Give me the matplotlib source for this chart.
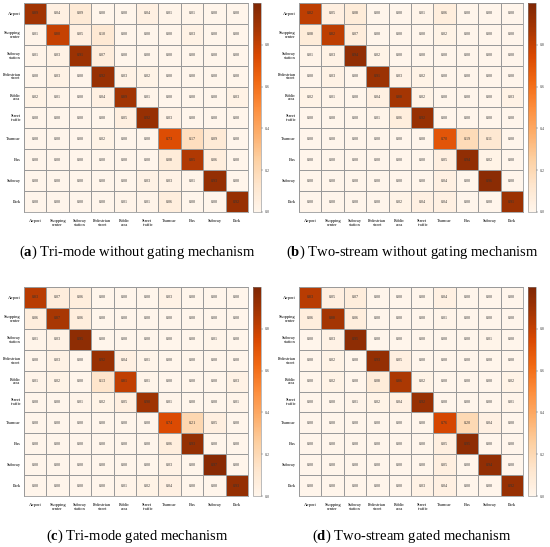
import numpy as np
import matplotlib.pyplot as plt

plt.rcParams['font.family'] = 'Liberation Serif'
plt.rcParams['mathtext.fontset'] = 'custom'
plt.rcParams['mathtext.rm'] = 'Liberation Serif'
plt.rcParams['mathtext.bf'] = 'Liberation Serif:bold'

# scene classes (row = true, column = predicted)
classes = ['Airport', 'Shopping\ncenter', 'Subway\nstation', 'Pedestrian\nstreet',
           'Public\narea', 'Street\ntraffic', 'Tramcar', 'Bus', 'Subway', 'Park']

tri_no_gate = [
    [0.89, 0.04, 0.09, 0.00, 0.00, 0.04, 0.01, 0.01, 0.00, 0.00],
    [0.01, 0.80, 0.05, 0.10, 0.00, 0.00, 0.00, 0.03, 0.00, 0.00],
    [0.01, 0.03, 0.91, 0.07, 0.00, 0.00, 0.00, 0.00, 0.00, 0.00],
    [0.00, 0.03, 0.00, 0.92, 0.03, 0.02, 0.00, 0.00, 0.00, 0.00],
    [0.02, 0.01, 0.00, 0.04, 0.89, 0.01, 0.00, 0.00, 0.00, 0.03],
    [0.00, 0.00, 0.00, 0.00, 0.05, 0.92, 0.03, 0.00, 0.00, 0.00],
    [0.00, 0.00, 0.00, 0.02, 0.00, 0.00, 0.73, 0.17, 0.09, 0.00],
    [0.00, 0.00, 0.00, 0.00, 0.00, 0.00, 0.08, 0.85, 0.06, 0.00],
    [0.00, 0.00, 0.00, 0.00, 0.00, 0.03, 0.03, 0.01, 0.93, 0.00],
    [0.00, 0.00, 0.00, 0.00, 0.01, 0.01, 0.06, 0.00, 0.00, 0.92],
]

two_no_gate = [
    [0.82, 0.05, 0.08, 0.00, 0.00, 0.01, 0.06, 0.00, 0.00, 0.00],
    [0.08, 0.82, 0.07, 0.00, 0.00, 0.00, 0.02, 0.00, 0.00, 0.00],
    [0.01, 0.03, 0.94, 0.02, 0.00, 0.00, 0.00, 0.00, 0.00, 0.00],
    [0.00, 0.03, 0.00, 0.91, 0.03, 0.02, 0.00, 0.00, 0.00, 0.00],
    [0.02, 0.01, 0.00, 0.04, 0.88, 0.02, 0.00, 0.00, 0.00, 0.03],
    [0.00, 0.00, 0.00, 0.01, 0.06, 0.92, 0.00, 0.00, 0.00, 0.00],
    [0.00, 0.00, 0.00, 0.00, 0.00, 0.00, 0.70, 0.19, 0.11, 0.00],
    [0.00, 0.00, 0.00, 0.00, 0.00, 0.00, 0.05, 0.94, 0.02, 0.00],
    [0.00, 0.00, 0.00, 0.00, 0.00, 0.00, 0.04, 0.00, 0.96, 0.00],
    [0.00, 0.00, 0.00, 0.00, 0.02, 0.04, 0.04, 0.00, 0.00, 0.91],
]

tri_gate = [
    [0.83, 0.07, 0.06, 0.00, 0.00, 0.00, 0.03, 0.00, 0.00, 0.00],
    [0.06, 0.87, 0.06, 0.00, 0.00, 0.00, 0.00, 0.00, 0.00, 0.00],
    [0.01, 0.03, 0.95, 0.00, 0.00, 0.00, 0.00, 0.00, 0.01, 0.00],
    [0.00, 0.03, 0.00, 0.92, 0.04, 0.01, 0.00, 0.00, 0.00, 0.00],
    [0.01, 0.02, 0.00, 0.13, 0.81, 0.01, 0.00, 0.00, 0.00, 0.03],
    [0.00, 0.00, 0.01, 0.02, 0.05, 0.90, 0.01, 0.00, 0.00, 0.01],
    [0.00, 0.00, 0.00, 0.00, 0.00, 0.00, 0.74, 0.21, 0.05, 0.00],
    [0.00, 0.00, 0.00, 0.00, 0.00, 0.00, 0.06, 0.93, 0.00, 0.00],
    [0.00, 0.00, 0.00, 0.00, 0.00, 0.00, 0.03, 0.00, 0.97, 0.00],
    [0.00, 0.00, 0.00, 0.00, 0.01, 0.02, 0.04, 0.00, 0.00, 0.93],
]

two_gate = [
    [0.83, 0.05, 0.07, 0.00, 0.00, 0.00, 0.04, 0.00, 0.00, 0.00],
    [0.06, 0.88, 0.06, 0.00, 0.00, 0.00, 0.01, 0.00, 0.00, 0.00],
    [0.00, 0.03, 0.95, 0.00, 0.00, 0.00, 0.00, 0.00, 0.01, 0.00],
    [0.00, 0.02, 0.00, 0.93, 0.05, 0.00, 0.00, 0.00, 0.00, 0.00],
    [0.00, 0.02, 0.00, 0.08, 0.86, 0.02, 0.00, 0.00, 0.00, 0.02],
    [0.00, 0.00, 0.01, 0.02, 0.04, 0.92, 0.00, 0.00, 0.00, 0.01],
    [0.00, 0.00, 0.00, 0.00, 0.00, 0.00, 0.76, 0.20, 0.04, 0.00],
    [0.00, 0.00, 0.00, 0.00, 0.00, 0.00, 0.05, 0.95, 0.00, 0.00],
    [0.00, 0.00, 0.00, 0.00, 0.00, 0.00, 0.05, 0.00, 0.94, 0.00],
    [0.00, 0.00, 0.00, 0.00, 0.00, 0.03, 0.04, 0.00, 0.00, 0.92],
]

captions = [
    ('a', 'Tri-mode without gating mechanism'),
    ('b', 'Two-stream without gating mechanism'),
    ('c', 'Tri-mode gated mechanism'),
    ('d', 'Two-stream gated mechanism'),
]
cbar_ticks = [0.0, 0.2, 0.4, 0.6, 0.8]

W, H = 550, 547
fig = plt.figure(figsize=(W / 100, H / 100), dpi=100)


def px_axes(x0, y0, x1, y1):
    """Axes placed by pixel box (origin top-left)."""
    return fig.add_axes([x0 / W, 1 - y1 / H, (x1 - x0) / W, (y1 - y0) / H])


def draw_panel(cm, letter, title, x0, y0):
    cm = np.asarray(cm)
    n = len(classes)
    ax = px_axes(x0, y0, x0 + 224, y0 + 209)
    cax = px_axes(x0 + 229, y0, x0 + 237, y0 + 209)

    mesh = ax.pcolormesh(cm, cmap='Oranges', vmin=0, vmax=1,
                         edgecolors='#9a9a9a', linewidth=0.6)
    ax.set_xlim(0, n)
    ax.set_ylim(n, 0)
    for i in range(n):
        for j in range(n):
            ax.text(j + 0.5, i + 0.5, f'{cm[i, j]:.2f}', ha='center', va='center',
                    fontsize=3, color='#333333')

    ax.set_xticks(np.arange(n) + 0.5, classes, fontsize=3.2, linespacing=0.95)
    ax.set_yticks(np.arange(n) + 0.5, classes, fontsize=3.2, linespacing=0.95)
    ax.tick_params(axis='x', length=0, pad=5)
    ax.tick_params(axis='y', length=0, pad=2.5)
    for s in ax.spines.values():
        s.set_color('#9a9a9a')
        s.set_linewidth(0.6)

    cb = fig.colorbar(mesh, cax=cax, ticks=cbar_ticks)
    cb.ax.tick_params(labelsize=3, length=1.2, width=0.3, pad=1.5, colors='#444444')
    cb.outline.set_linewidth(0.4)
    cb.outline.set_edgecolor('#888888')

    fig.text((x0 + 113) / W, 1 - (y0 + 249) / H,
             rf'($\mathbf{{{letter}}}$) {title}',
             ha='center', va='center', fontsize=10.5)


origins = [(24, 3), (299, 3), (24, 287), (299, 287)]
mats = [tri_no_gate, two_no_gate, tri_gate, two_gate]
for cm, (letter, title), (x0, y0) in zip(mats, captions, origins):
    draw_panel(cm, letter, title, x0, y0)

fig.savefig('out.png', dpi=100)
